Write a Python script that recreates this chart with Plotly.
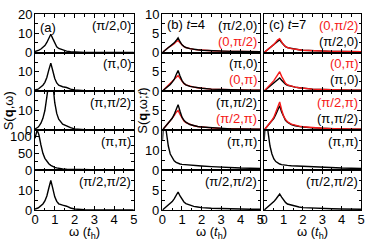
import plotly.graph_objects as go

# ---------------- data ----------------
omega = [0, 0.05, 0.1, 0.15, 0.2, 0.3, 0.4, 0.5, 0.6, 0.7, 0.8, 0.9, 1.0, 1.1, 1.2,
         1.4, 1.6, 1.8, 2.0, 2.5, 3.0, 3.5, 4.0, 4.5, 5.0]

# panel (a): equilibrium S(q, w)
a_pi2_0 = [0.5, 0.6, 0.8, 1.0, 1.2, 1.8, 2.6, 3.6, 5.2, 7.5, 9.5, 7.2, 4.6, 3.0, 2.1,
           1.2, 0.7, 0.4, 0.25, 0.08, 0.03, 0.02, 0.01, 0.01, 0.01]
a_pi_0 = [0.5, 0.6, 0.8, 1.0, 1.3, 2.0, 3.0, 4.5, 7.0, 11.0, 14.5, 10.5, 6.5, 4.2, 3.0,
          2.2, 1.8, 1.0, 0.5, 0.1, 0.03, 0.02, 0.01, 0.01, 0.01]
a_pi_pi2 = [0.5, 0.7, 1.0, 1.4, 2.0, 3.5, 6.0, 10.0, 17.0, 27.0, 32.0, 24.0, 14.0, 8.5, 5.5,
            3.0, 2.0, 1.2, 0.6, 0.1, 0.03, 0.02, 0.01, 0.01, 0.01]
a_pi_pi = [95, 112, 118, 114, 105, 75, 50, 35, 25, 19, 14, 10, 8, 6.5, 5,
           3, 2.2, 1.8, 1.5, 0.8, 0.5, 0.4, 0.3, 0.2, 0.2]
a_pi2_pi2 = [0.5, 0.6, 0.8, 1.0, 1.3, 2.0, 3.0, 4.5, 7.0, 11.0, 14.8, 10.8, 6.6, 4.3, 3.1,
             2.4, 1.9, 1.0, 0.5, 0.1, 0.03, 0.02, 0.01, 0.01, 0.01]

# panel (b): t = 4
b_pi2_0 = [0, 0.2, 0.4, 0.6, 0.8, 1.2, 1.6, 2.0, 2.5, 3.1, 3.8, 2.8, 2.0, 1.6, 1.3,
           1.0, 0.8, 0.7, 0.6, 0.45, 0.35, 0.3, 0.25, 0.2, 0.2]
b_0_pi2 = [0, 0.25, 0.5, 0.7, 0.9, 1.3, 1.6, 1.9, 2.3, 2.8, 3.1, 2.5, 1.9, 1.5, 1.25,
           1.0, 0.8, 0.7, 0.6, 0.45, 0.35, 0.3, 0.25, 0.2, 0.2]
b_pi_0 = [0, 0.2, 0.4, 0.6, 0.8, 1.2, 1.7, 2.3, 3.0, 4.2, 5.3, 3.9, 2.7, 2.0, 1.6,
          1.2, 1.0, 0.85, 0.7, 0.5, 0.4, 0.3, 0.25, 0.2, 0.2]
b_0_pi = [0, 0.25, 0.5, 0.75, 1.0, 1.4, 1.9, 2.4, 3.0, 3.6, 4.0, 3.3, 2.5, 1.9, 1.6,
          1.2, 1.0, 0.85, 0.7, 0.5, 0.4, 0.3, 0.25, 0.2, 0.2]
b_pi_pi2 = [0, 0.3, 0.6, 0.9, 1.2, 1.7, 2.3, 3.0, 4.0, 5.3, 6.5, 4.8, 3.3, 2.5, 2.0,
            1.4, 1.1, 0.9, 0.75, 0.55, 0.4, 0.3, 0.25, 0.2, 0.2]
b_pi2_pi = [0, 0.35, 0.7, 1.0, 1.3, 1.8, 2.4, 3.0, 3.7, 4.5, 5.0, 4.0, 3.0, 2.3, 1.9,
            1.4, 1.1, 0.9, 0.75, 0.55, 0.4, 0.3, 0.25, 0.2, 0.2]
b_pi_pi = [15, 24, 30, 26, 19, 12, 8, 6, 4.6, 3.8, 3.3, 3.0, 2.8, 2.7, 2.6,
           2.4, 2.3, 2.2, 2.0, 1.7, 1.4, 1.2, 1.0, 0.9, 0.8]
b_pi2_pi2 = [0, 0.2, 0.4, 0.6, 0.8, 1.2, 1.6, 2.1, 2.8, 3.7, 4.5, 3.5, 2.6, 2.0, 1.6,
             1.2, 0.9, 0.75, 0.6, 0.45, 0.35, 0.3, 0.25, 0.2, 0.2]

# panel (c): t = 7
c_0_pi2 = [0, 0.2, 0.4, 0.6, 0.8, 1.2, 1.6, 2.1, 2.7, 3.3, 3.6, 2.8, 2.0, 1.6, 1.3,
           1.0, 0.8, 0.7, 0.6, 0.45, 0.35, 0.3, 0.25, 0.2, 0.2]
c_pi2_0 = [0, 0.2, 0.4, 0.6, 0.8, 1.2, 1.6, 2.0, 2.5, 3.0, 3.3, 2.6, 1.9, 1.5, 1.25,
           1.0, 0.8, 0.7, 0.6, 0.45, 0.35, 0.3, 0.25, 0.2, 0.2]
c_0_pi = [0, 0.25, 0.5, 0.75, 1.0, 1.5, 2.0, 2.7, 3.5, 4.3, 5.0, 3.8, 2.7, 2.0, 1.6,
          1.2, 1.0, 0.85, 0.7, 0.5, 0.4, 0.3, 0.25, 0.2, 0.2]
c_pi_0 = [0, 0.2, 0.4, 0.6, 0.8, 1.2, 1.6, 2.0, 2.5, 3.0, 3.4, 2.8, 2.2, 1.8, 1.5,
          1.2, 1.0, 0.85, 0.7, 0.5, 0.4, 0.3, 0.25, 0.2, 0.2]
c_pi2_pi = [0, 0.3, 0.6, 0.9, 1.2, 1.8, 2.5, 3.3, 4.5, 6.0, 7.2, 5.2, 3.6, 2.7, 2.1,
            1.5, 1.2, 1.0, 0.85, 0.6, 0.45, 0.35, 0.3, 0.25, 0.2]
c_pi_pi2 = [0, 0.3, 0.6, 0.9, 1.2, 1.7, 2.3, 3.0, 4.0, 5.2, 6.2, 4.6, 3.3, 2.5, 2.0,
            1.4, 1.1, 0.9, 0.75, 0.55, 0.4, 0.3, 0.25, 0.2, 0.2]
c_pi_pi = [15, 24, 30, 26, 19, 12, 8, 5.5, 4.2, 3.5, 3.0, 2.7, 2.5, 2.4, 2.3,
           2.1, 2.0, 1.9, 1.8, 1.5, 1.3, 1.1, 1.0, 0.9, 0.8]
c_pi2_pi2 = [0, 0.2, 0.4, 0.6, 0.8, 1.2, 1.6, 2.1, 2.7, 3.4, 4.0, 3.2, 2.4, 1.9, 1.5,
             1.2, 0.9, 0.75, 0.6, 0.45, 0.35, 0.3, 0.25, 0.2, 0.2]

x_ticks = [0, 1, 2, 3, 4, 5]
x_ticklabels = ["0", "1", "2", "3", "4", "5"]

# ---------------- layout helpers ----------------
W, H = 374, 243
ML, MR, MT, MB = 35, 9, 14, 33
PW, PH = W - ML - MR, H - MT - MB

def px_x(p):
    return (p - ML) / PW

def px_y(p):
    return (H - MB - p) / PH

col_px = [(35, 135), (164, 263), (267, 365)]
row_px = [(14, 52.5), (52.5, 91), (91, 130), (130, 170), (170, 210)]
col_dom = [[px_x(a), px_x(b)] for a, b in col_px]
row_dom = [[px_y(b), px_y(a)] for a, b in row_px]

BLACK = "black"
RED = "rgb(245,25,25)"
FONT = "Liberation Sans, Arial, sans-serif"

panels = {
    (0, 0): [(a_pi2_0, BLACK)],
    (1, 0): [(a_pi_0, BLACK)],
    (2, 0): [(a_pi_pi2, BLACK)],
    (3, 0): [(a_pi_pi, BLACK)],
    (4, 0): [(a_pi2_pi2, BLACK)],
    (0, 1): [(b_0_pi2, RED), (b_pi2_0, BLACK)],
    (1, 1): [(b_0_pi, RED), (b_pi_0, BLACK)],
    (2, 1): [(b_pi2_pi, RED), (b_pi_pi2, BLACK)],
    (3, 1): [(b_pi_pi, BLACK)],
    (4, 1): [(b_pi2_pi2, BLACK)],
    (0, 2): [(c_pi2_0, BLACK), (c_0_pi2, RED)],
    (1, 2): [(c_pi_0, BLACK), (c_0_pi, RED)],
    (2, 2): [(c_pi_pi2, BLACK), (c_pi2_pi, RED)],
    (3, 2): [(c_pi_pi, BLACK)],
    (4, 2): [(c_pi2_pi2, BLACK)],
}

labels = {
    (0, 0): [("(π/2,0)", BLACK)],
    (1, 0): [("(π,0)", BLACK)],
    (2, 0): [("(π,π/2)", BLACK)],
    (3, 0): [("(π,π)", BLACK)],
    (4, 0): [("(π/2,π/2)", BLACK)],
    (0, 1): [("(π/2,0)", BLACK), ("(0,π/2)", RED)],
    (1, 1): [("(π,0)", BLACK), ("(0,π)", RED)],
    (2, 1): [("(π,π/2)", BLACK), ("(π/2,π)", RED)],
    (3, 1): [("(π,π)", BLACK)],
    (4, 1): [("(π/2,π/2)", BLACK)],
    (0, 2): [("(0,π/2)", RED), ("(π/2,0)", BLACK)],
    (1, 2): [("(0,π)", RED), ("(π,0)", BLACK)],
    (2, 2): [("(π/2,π)", RED), ("(π,π/2)", BLACK)],
    (3, 2): [("(π,π)", BLACK)],
    (4, 2): [("(π/2,π/2)", BLACK)],
}

# y-axis settings: (range, all major ticks, labelled ticks, minor dtick)
a_y = [
    ([0, 20], [0, 10, 20], [0, 10, 20], 5),
    ([0, 20], [0, 10, 20], [0, 10], 5),
    ([0, 20], [0, 10, 20], [0, 10], 5),
    ([0, 120], [0, 50, 100], [0, 50, 100], 25),
    ([0, 20], [0, 10, 20], [0, 10], 5),
]
bc_y = [
    ([0, 10], [0, 5, 10], [0, 5, 10], 2.5),
    ([0, 10], [0, 5, 10], [0, 5], 2.5),
    ([0, 10], [0, 5, 10], [0, 5], 2.5),
    ([0, 20], [0, 10, 20], [0, 10], 5),
    ([0, 10], [0, 5, 10], [0, 5], 2.5),
]

fig = go.Figure()
annotations = []

for r in range(5):
    for c in range(3):
        idx = r * 3 + c + 1
        sfx = "" if idx == 1 else str(idx)
        for ys, col in panels[(r, c)]:
            fig.add_trace(go.Scatter(x=omega, y=ys, mode="lines",
                                     line=dict(color=col, width=1.4),
                                     xaxis="x" + sfx, yaxis="y" + sfx,
                                     showlegend=False, hoverinfo="skip"))
        common = dict(showline=True, linecolor=BLACK, linewidth=1, mirror="ticks",
                      ticks="inside", ticklen=4, tickwidth=1, tickcolor=BLACK,
                      showgrid=False, zeroline=False)
        xa = dict(common, domain=col_dom[c], anchor="y" + sfx, range=[0, 5],
                  tickmode="array", tickvals=x_ticks, ticktext=x_ticklabels,
                  showticklabels=(r == 4), ticklabelstandoff=-3,
                  tickfont=dict(family=FONT, size=13, color=BLACK),
                  minor=dict(ticks="inside", dtick=0.5, ticklen=2.5,
                             tickcolor=BLACK, showgrid=False))
        rng, tv, lv, mdt = (a_y if c == 0 else bc_y)[r]
        ya = dict(common, domain=row_dom[r], anchor="x" + sfx, range=rng,
                  tickmode="array", tickvals=tv, showticklabels=False,
                  minor=dict(ticks="inside", dtick=mdt, ticklen=2.5,
                             tickcolor=BLACK, showgrid=False))
        fig.layout["xaxis" + sfx] = xa
        fig.layout["yaxis" + sfx] = ya
        # y tick labels placed on the axis scale
        if c != 2:
            for v in lv:
                annotations.append(dict(text=str(v), xref="x" + sfx + " domain",
                                        yref="y" + sfx, x=0, y=v,
                                        xanchor="right", yanchor="middle",
                                        xshift=-1, showarrow=False,
                                        font=dict(family=FONT, size=13, color=BLACK)))
        for k, (txt, col) in enumerate(labels[(r, c)]):
            annotations.append(dict(text=txt, xref="x" + sfx + " domain",
                                    yref="y" + sfx + " domain", x=1, y=1,
                                    xanchor="right", yanchor="middle",
                                    xshift=-1, yshift=-11 - 16 * k,
                                    showarrow=False,
                                    font=dict(family=FONT, size=13, color=col)))

# panel tags
tags = [("(a)", 1, -13), ("(b) <i>t</i>=4", 2, -10), ("(c) <i>t</i>=7", 3, -10)]
for txt, idx, ys in tags:
    sfx = "" if idx == 1 else str(idx)
    annotations.append(dict(text=txt, xref="x" + sfx + " domain",
                            yref="y" + sfx + " domain", x=0, y=1,
                            xanchor="left", yanchor="middle", xshift=3, yshift=ys,
                            showarrow=False,
                            font=dict(family=FONT, size=13, color=BLACK)))

# axis titles
for c in range(3):
    cx = px_x((col_px[c][0] + col_px[c][1]) / 2)
    annotations.append(dict(text="ω (<i>t</i><sub>h</sub>)", xref="paper", yref="paper",
                            x=cx, y=px_y(232), xanchor="center", yanchor="middle",
                            showarrow=False,
                            font=dict(family=FONT, size=13, color=BLACK)))
annotations.append(dict(text="S(<b>q</b>,ω)", xref="paper", yref="paper",
                        x=px_x(8), y=px_y(111), xanchor="center", yanchor="middle",
                        textangle=-90, showarrow=False,
                        font=dict(family=FONT, size=13, color=BLACK)))
annotations.append(dict(text="S(<b>q</b>,ω;<i>t</i>)", xref="paper", yref="paper",
                        x=px_x(143), y=px_y(111), xanchor="center", yanchor="middle",
                        textangle=-90, showarrow=False,
                        font=dict(family=FONT, size=13, color=BLACK)))

fig.update_layout(width=W, height=H, margin=dict(l=ML, r=MR, t=MT, b=MB),
                  paper_bgcolor="white", plot_bgcolor="white",
                  annotations=annotations, showlegend=False,
                  font=dict(family=FONT, size=13, color=BLACK))

fig.write_html("out.html", config={"displayModeBar": False},
               post_script="document.body.style.margin='0';document.body.style.overflow='hidden';")
